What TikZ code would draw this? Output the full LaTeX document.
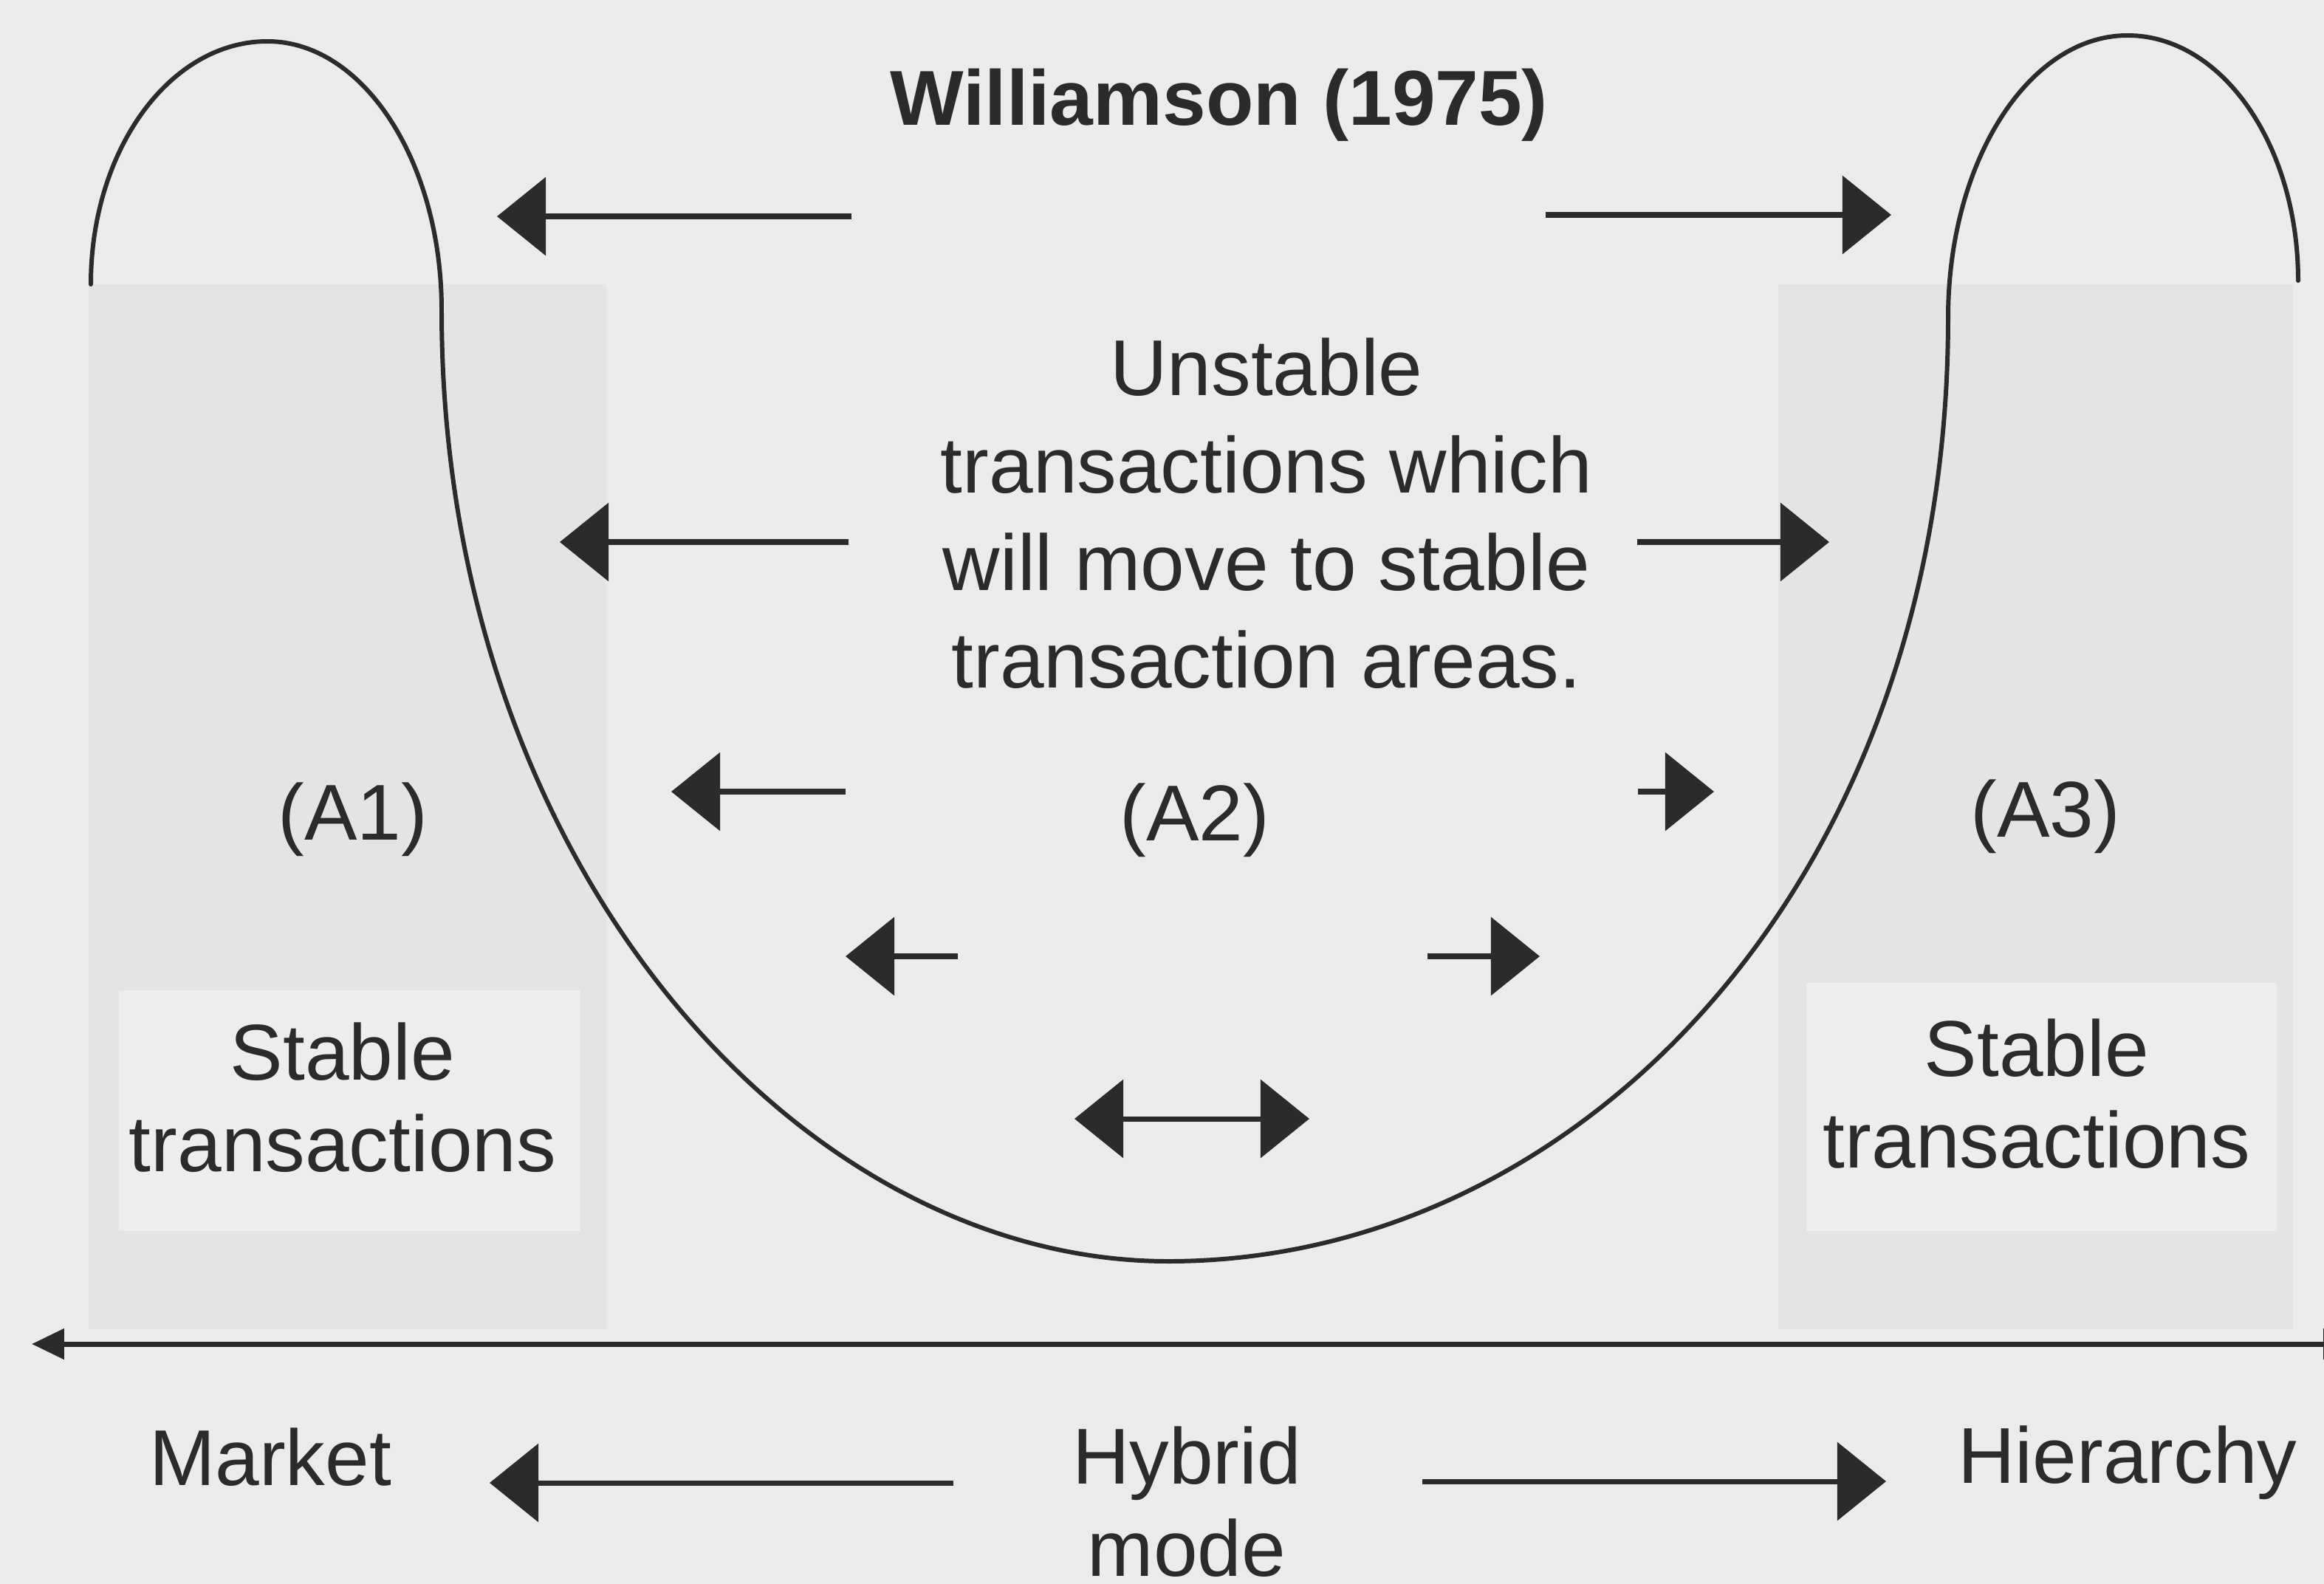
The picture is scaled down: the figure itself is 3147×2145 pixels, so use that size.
\documentclass[tikz,border=0pt]{standalone}
\usepackage{fontspec}
\setmainfont{Liberation Sans}
\usetikzlibrary{arrows.meta}
\definecolor{paper}{HTML}{EBEBEB}
\definecolor{panel}{HTML}{E4E4E4}
\definecolor{panelbox}{HTML}{EDEDED}
\definecolor{ink}{HTML}{2B2B2B}
\begin{document}
\begin{tikzpicture}[x=0.01cm,y=-0.01cm,
  txt/.style={text=ink, inner sep=0pt, align=center, font=\fontsize{30.5}{37.5}\selectfont},
  pair/.style={txt, font=\fontsize{30.5}{35}\selectfont},
  move/.style={draw=ink, line width=2pt, -{Triangle[length=18.8pt,width=29.9pt]}},
  both/.style={draw=ink, line width=2pt, {Triangle[length=18.8pt,width=29.9pt]}-{Triangle[length=18.8pt,width=29.9pt]}},
  frontier/.style={draw=ink, line width=1.7pt, line join=round, line cap=round},
  axisline/.style={draw=ink, line width=2pt, {Triangle[length=12.5pt,width=11.5pt]}-{Triangle[length=12.5pt,width=11.5pt]}}]

% page and background panels
\useasboundingbox (0,0) rectangle (3147,2145);
\fill[paper] (0,0) rectangle (3147,2145);
\fill[panel] (120,385) rectangle (821,1800);
\fill[panelbox] (161,1341) rectangle (786,1667);
\fill[panel] (2408,385) rectangle (3105,1800);
\fill[panelbox] (2446,1331) rectangle (3083,1667);

% transaction frontier: two lobes joined by a deep trough
\coordinate (fA) at (123,385);
\coordinate (fP) at (362,56);
\coordinate (fB) at (598,420);
\coordinate (fQ) at (1582,1708);
\coordinate (fC) at (2638,430);
\coordinate (fR) at (2881,48);
\coordinate (fE) at (3112,380);
\draw[frontier] (fA)
  .. controls (123,203) and (230,56) .. (fP)
  .. controls (492,56) and (598,219) .. (fB)
  .. controls (598,1170) and (1082,1708) .. (fQ)
  .. controls (2142,1708) and (2638,1190) .. (fC)
  .. controls (2638,219) and (2747,48) .. (fR)
  .. controls (3009,48) and (3112,197) .. (fE);

% labels
\node[txt, font=\fontsize{30}{36}\selectfont\bfseries, anchor=base] (title) at (1651,169) {Williamson (1975)};
\node[txt, anchor=base] (unstable) at (1715,931) {Unstable\\transactions which\\will move to stable\\transaction areas.};
\node[txt, anchor=base] (a1) at (478,1137) {(A1)};
\node[txt, anchor=base] (a2) at (1618,1138) {(A2)};
\node[txt, anchor=base] (a3) at (2770,1133) {(A3)};
\node[pair, anchor=base] (stableL) at (464,1586) {Stable\\transactions};
\node[pair, anchor=base] (stableR) at (2758,1581) {Stable\\transactions};
\node[txt, anchor=base] (market) at (366,2011) {Market};
\node[pair, font=\fontsize{30.5}{35.5}\selectfont, anchor=base] (hybrid) at (1607,2134) {Hybrid\\mode};
\node[txt, anchor=base] (hierarchy) at (2881,2008) {Hierarchy};

% arrow ends
\coordinate (t1L) at (1153,293); \coordinate (h1L) at (673,293);
\coordinate (t1R) at (2093,291); \coordinate (h1R) at (2561,291);
\coordinate (t2L) at (1149,734); \coordinate (h2L) at (758,734);
\coordinate (t2R) at (2217,734); \coordinate (h2R) at (2477,734);
\coordinate (t3L) at (1145,1072); \coordinate (h3L) at (909,1072);
\coordinate (t3R) at (2218,1072); \coordinate (h3R) at (2321,1072);
\coordinate (t4L) at (1297,1295); \coordinate (h4L) at (1145,1295);
\coordinate (t4R) at (1933,1295); \coordinate (h4R) at (2085,1295);
\coordinate (dL) at (1455,1515); \coordinate (dR) at (1773,1515);
\coordinate (tbL) at (1291,2008); \coordinate (hbL) at (663,2008);
\coordinate (tbR) at (1926,2006); \coordinate (hbR) at (2554,2006);
\coordinate (axL) at (43,1820); \coordinate (axR) at (3190,1820);

% movement arrows
\draw[move] (t1L) -- (h1L);
\draw[move] (t1R) -- (h1R);
\draw[move] (t2L) -- (h2L);
\draw[move] (t2R) -- (h2R);
\draw[move] (t3L) -- (h3L);
\draw[move] (t3R) -- (h3R);
\draw[move] (t4L) -- (h4L);
\draw[move] (t4R) -- (h4R);
\draw[both] (dL) -- (dR);
\draw[move] (tbL) -- (hbL);
\draw[move] (tbR) -- (hbR);

% governance axis
\draw[axisline] (axL) -- (axR);
\end{tikzpicture}
\end{document}
